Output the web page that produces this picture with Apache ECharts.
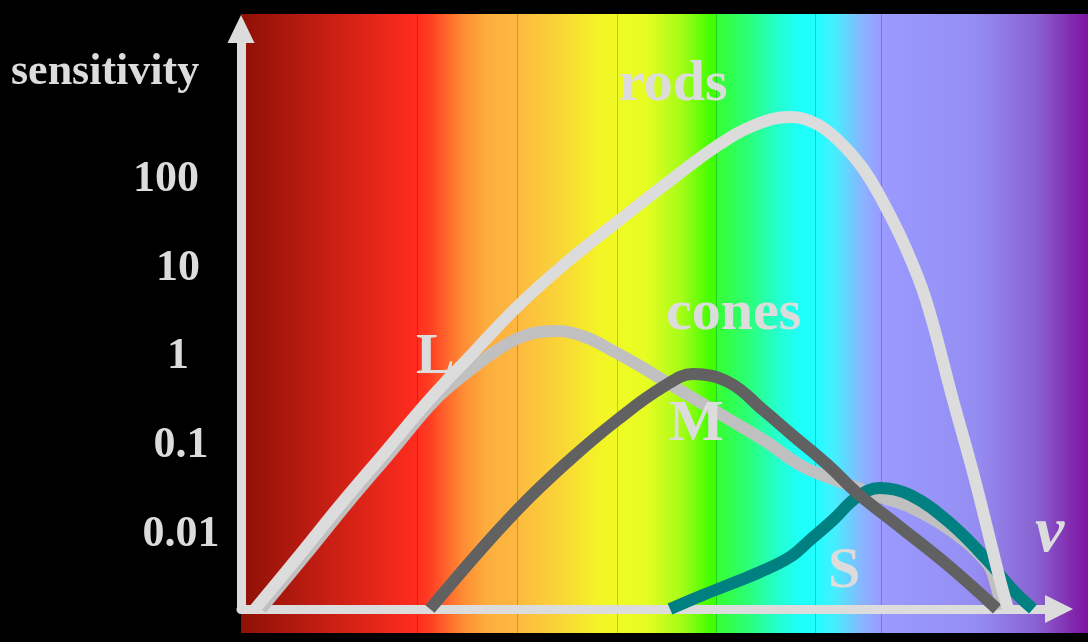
<!DOCTYPE html>
<html>
<head>
<meta charset="utf-8">
<script src="https://cdn.jsdelivr.net/npm/echarts@6/dist/echarts.min.js"></script>
<style>
  html, body { margin: 0; padding: 0; background: #000; }
  #chart { width: 1088px; height: 642px; }
</style>
</head>
<body>
<div id="chart"></div>
<script>
// Log axis range: curves start and end on the ν axis at FLOOR.
const FLOOR = 0.00134;
const CEIL = 4755;

// y-axis tick labels (sensitivity, log scale)
const yTicks = [0.01, 0.1, 1, 10, 100];

// Sensitivity curves: [ν (arbitrary units), relative sensitivity]
const rods = [
  [1.4, FLOOR], [5.9, 0.00552], [10.0, 0.0206], [14.4, 0.0794], [18.8, 0.307],
  [23.3, 1.07], [27.6, 3.45], [32.6, 11.1], [37.6, 31.4], [42.6, 86.7],
  [47.6, 227], [51.4, 392], [54.9, 482], [57.6, 402], [59.9, 252],
  [62.1, 131], [64.1, 55.7], [66.4, 16.8], [68.5, 4.14], [71.2, 0.307],
  [73.4, 0.0384], [75.9, 0.00285], [76.7, FLOOR]
];
const coneL = [
  [2.0, FLOOR], [6.5, 0.00552], [10.6, 0.0206], [15.0, 0.0794], [19.4, 0.307],
  [22.9, 0.670], [26.4, 1.28], [28.9, 1.71], [31.5, 1.85], [34.4, 1.58],
  [37.2, 1.10], [39.9, 0.744], [42.2, 0.517], [45.9, 0.291], [48.9, 0.183],
  [52.4, 0.106], [55.9, 0.0567], [58.9, 0.0404], [61.9, 0.0304], [63.9, 0.0247],
  [66.9, 0.0190], [70.9, 0.01045], [74.6, 0.00443], [75.5, 0.0025], [76.1, FLOOR]
];
const coneM = [
  [18.9, FLOOR], [24.4, 0.00708], [28.9, 0.0246], [33.2, 0.0698], [37.6, 0.182],
  [42.2, 0.431], [45.2, 0.604], [48.9, 0.478], [52.2, 0.237], [54.9, 0.130],
  [58.9, 0.0538], [61.6, 0.0274], [65.9, 0.0113], [70.9, 0.00399], [75.6, FLOOR]
];
const coneS = [
  [42.9, FLOOR], [45.9, 0.00187], [48.9, 0.00255], [51.9, 0.00351], [54.9, 0.00518],
  [56.9, 0.00805], [59.2, 0.01355], [61.6, 0.0246], [63.9, 0.0312], [66.9, 0.026],
  [70.9, 0.01253], [74.6, 0.00479], [77.2, 0.00219], [79.2, FLOOR]
];

// Spectrum backdrop: colour bands from red (low ν) to violet (high ν)
const bandTop = 14, bandBottom = 633;
const spectrum = [
  { x0: 241, x1: 417, stops: [[0, '#8e1006'], [0.5, '#c81f14'], [1, '#ff2c1f']] },
  { x0: 417, x1: 517, stops: [[0, '#ff2e20'], [0.12, '#ff3c22'], [0.45, '#ff8a34'], [0.7, '#fdae3e'], [1, '#fdb840']] },
  { x0: 517, x1: 617, stops: [[0, '#fdb940'], [0.45, '#f9d636'], [0.8, '#f4f226'], [1, '#f0fa24']] },
  { x0: 617, x1: 716, stops: [[0, '#f0fa24'], [0.3, '#e6fc22'], [0.65, '#a6fc18'], [0.95, '#40ff00'], [1, '#40ff00']] },
  { x0: 716, x1: 815, stops: [[0, '#36ff30'], [0.3, '#2cff70'], [0.6, '#24ffc8'], [0.85, '#1efffa'], [1, '#1effff']] },
  { x0: 815, x1: 881, stops: [[0, '#1effff'], [0.3, '#46eeff'], [0.7, '#88b6ff'], [1, '#9a9aff']] },
  { x0: 881, x1: 1088, stops: [[0, '#9a9aff'], [0.45, '#958ef2'], [0.75, '#8a62d2'], [1, '#7e12a0']] }
];

const ink = '#dcdcdc';
const serif = '"Liberation Serif", "Times New Roman", serif';

function label(text, x, y, size, italic) {
  return {
    type: 'text', x: x, y: y, z: 100, silent: true,
    style: {
      text: text, fill: ink,
      font: (italic ? 'italic ' : '') + 'bold ' + size + 'px ' + serif,
      align: 'left', verticalAlign: 'middle',
      textAlign: 'left', textVerticalAlign: 'middle'
    }
  };
}

const graphics = [];
spectrum.forEach(function (b) {
  graphics.push({
    type: 'rect', z: -10, silent: true,
    shape: { x: b.x0, y: bandTop, width: b.x1 - b.x0, height: bandBottom - bandTop },
    style: {
      fill: new echarts.graphic.LinearGradient(0, 0, 1, 0,
        b.stops.map(function (s) { return { offset: s[0], color: s[1] }; }))
    }
  });
});
spectrum.slice(1).forEach(function (b) {
  graphics.push({
    type: 'line', z: -9, silent: true,
    shape: { x1: b.x0 + 0.5, y1: bandTop, x2: b.x0 + 0.5, y2: bandBottom },
    style: { stroke: 'rgba(0,0,0,0.2)', lineWidth: 1 }
  });
});
graphics.push(
  label('sensitivity', 11, 73, 44),
  label('rods', 619, 85, 58),
  label('cones', 666, 314, 58),
  label('L', 416, 358, 58),
  label('M', 669, 425, 58),
  label('S', 828, 572, 58),
  label('\u03bd', 1035, 534, 66, true)
);

// Tick text, with small per-label nudges of the hand-set labels
function fmtTick(v) {
  for (let i = 0; i < yTicks.length; i++) {
    if (Math.abs(Math.log10(v) - Math.log10(yTicks[i])) < 1e-6) {
      const t = String(yTicks[i]);
      if (yTicks[i] >= 100) return '{wide|' + t + '}';
      if (yTicks[i] < 1) return '{frac|' + t + '}';
      return '{mid|' + t + '}';
    }
  }
  return '';
}

function tickStyle(pad) {
  return { color: ink, fontFamily: serif, fontWeight: 'bold', fontSize: 44, padding: pad };
}

function curve(name, data, color) {
  return {
    name: name, type: 'line', data: data, smooth: 0.4,
    symbol: 'none', clip: false, silent: true,
    lineStyle: { color: color, width: 12, cap: 'butt' }
  };
}

const chart = echarts.init(document.getElementById('chart'), null, { renderer: 'canvas' });
chart.setOption({
  backgroundColor: '#000',
  animation: false,
  grid: { left: 241, right: 29, top: 29, bottom: 33, containLabel: false, outerBoundsMode: 'none' },
  xAxis: {
    type: 'value', min: 0, max: 81.8,
    axisLine: {
      show: true, onZero: false,
      symbol: ['none', 'triangle'], symbolSize: [28, 28],
      lineStyle: { color: ink, width: 9 }
    },
    axisTick: { show: false }, axisLabel: { show: false }, splitLine: { show: false }
  },
  yAxis: {
    type: 'log', logBase: 10, min: FLOOR, max: CEIL,
    axisLine: {
      show: true, onZero: false,
      symbol: ['none', 'triangle'], symbolSize: [27, 28],
      lineStyle: { color: ink, width: 9 }
    },
    axisTick: { show: false }, splitLine: { show: false },
    axisLabel: {
      show: true, showMinLabel: false, showMaxLabel: false,
      color: ink, fontFamily: serif, fontWeight: 'bold', fontSize: 44,
      align: 'center', margin: 63, padding: [5, 0, 0, 0],
      formatter: fmtTick,
      rich: {
        wide: tickStyle([0, 24, 0, 0]),
        mid: tickStyle([0, 0, 0, 0]),
        frac: tickStyle([0, 0, 0, 6])
      }
    }
  },
  graphic: graphics,
  series: [
    curve('L', coneL, '#c0c0c0'),
    curve('S', coneS, '#008080'),
    curve('M', coneM, '#616161'),
    curve('rods', rods, '#dcdcdc')
  ]
});
</script>
</body>
</html>
